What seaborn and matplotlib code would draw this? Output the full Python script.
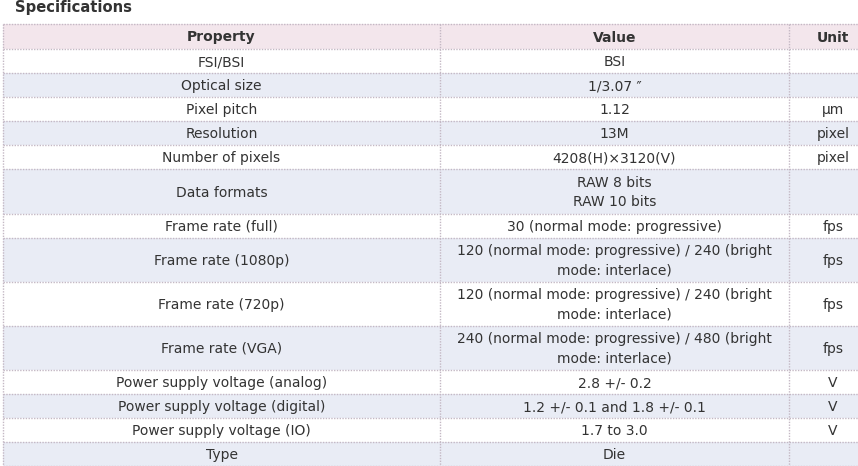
import matplotlib
matplotlib.use('Agg')
import matplotlib.pyplot as plt
import seaborn as sns

title = 'Specifications'
headers = ['Property', 'Value', 'Unit']
properties = ['FSI/BSI', 'Optical size', 'Pixel pitch', 'Resolution', 'Number of pixels',
              'Data formats', 'Frame rate (full)', 'Frame rate (1080p)', 'Frame rate (720p)',
              'Frame rate (VGA)', 'Power supply voltage (analog)', 'Power supply voltage (digital)',
              'Power supply voltage (IO)', 'Type']
values = ['BSI', '1/3.07 \u2033', '1.12', '13M', '4208(H)\u00d73120(V)',
          'RAW 8 bits\nRAW 10 bits', '30 (normal mode: progressive)',
          '120 (normal mode: progressive) / 240 (bright\nmode: interlace)',
          '120 (normal mode: progressive) / 240 (bright\nmode: interlace)',
          '240 (normal mode: progressive) / 480 (bright\nmode: interlace)',
          '2.8 +/- 0.2', '1.2 +/- 0.1 and 1.8 +/- 0.1', '1.7 to 3.0', 'Die']
units = ['', '', '\u00b5m', 'pixel', 'pixel', '', 'fps', 'fps', 'fps', 'fps', 'V', 'V', 'V', '']

sns.set_theme(style='white')
plt.rcParams['font.family'] = ['DejaVu Sans']

text_col = '#333333'
head_bg = '#F3E6EC'
alt_bg = '#E9ECF5'
line_col = '#C4B8C4'
fs = 10

fig = plt.figure(figsize=(8.58, 4.66), dpi=100)
ax = fig.add_axes([0, 0, 1, 1])
ax.set_xlim(0, 858)
ax.set_ylim(466, 0)
ax.axis('off')

# column edges (table runs past the right edge of the image)
col_x = [3, 440, 789, 877]
col_c = [(col_x[i] + col_x[i + 1]) / 2 for i in range(3)]

ax.text(15, 7.5, title, fontsize=10.6, fontweight='bold', color=text_col, va='center', ha='left')

top = 24
head_h = 25
ax.axhspan(top + head_h, top, xmin=col_x[0] / 858, xmax=1, color=head_bg, lw=0)
for c, h in zip(col_c, headers):
    ax.text(c, top + head_h / 2 + 1, h, fontsize=fs, fontweight='bold', color=text_col,
            ha='center', va='center')

y = top + head_h
edges = [top, y]
for i, (p, v, u) in enumerate(zip(properties, values, units)):
    n = v.count('\n') + 1
    h = 24.1 + 20 * (n - 1)
    if i % 2 == 1:
        ax.axhspan(y + h, y, xmin=col_x[0] / 858, xmax=1, color=alt_bg, lw=0)
    mid = y + h / 2 + 1
    for c, t in zip(col_c, [p, v, u]):
        lines = t.split('\n')
        for k, line in enumerate(lines):
            ly = mid + (k - (len(lines) - 1) / 2) * 19
            ax.text(c, ly, line, fontsize=fs, color=text_col, ha='center', va='center')
    y += h
    edges.append(y)

for e in edges:
    ax.plot([col_x[0], 858], [e, e], color=line_col, lw=1, ls=(0, (1, 1)))
for x in col_x[:3]:
    ax.plot([x, x], [top, y], color=line_col, lw=1, ls=(0, (1, 1)))

fig.savefig('out.png', dpi=100)
